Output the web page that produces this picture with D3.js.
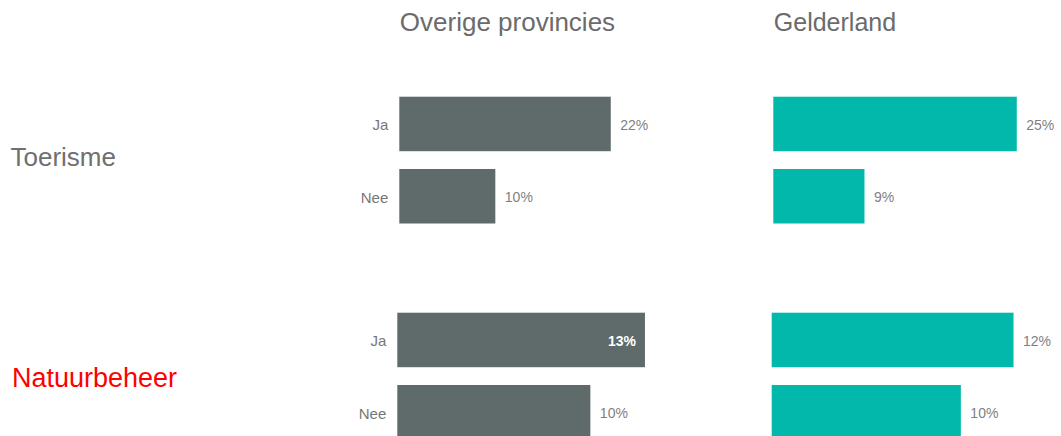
<!DOCTYPE html>
<html><head><meta charset="utf-8">
<script src="https://cdn.jsdelivr.net/npm/d3@7"></script>
<style>body{margin:0;background:#fff}svg{display:block}text{font-family:"Liberation Sans",Arial,sans-serif}</style>
</head><body>
<svg id="c" width="1061" height="436"></svg>
<script>
const panels = ["Overige provincies", "Gelderland"];
const groups = ["Toerisme", "Natuurbeheer"];
const answers = ["Ja", "Nee"];
const overigeToerisme = [21.8, 9.9];
const gelderlandToerisme = [25.1, 9.4];
const overigeNatuurbeheer = [12.7, 9.9];
const gelderlandNatuurbeheer = [12.4, 9.7];

const values = {
  "Toerisme": [overigeToerisme, gelderlandToerisme],
  "Natuurbeheer": [overigeNatuurbeheer, gelderlandNatuurbeheer]
};
const colors = ["#5f6a6a", "#01b8aa"];
const layout = {
  "Toerisme": {top: 96.7, maxV: 30, width: 291, x0: [399.3, 773.3], labelX: 10.5, labelY: 166, color: "#6f6f6f", size: 26},
  "Natuurbeheer": {top: 312.7, maxV: 15, width: 292.5, x0: [397.3, 771.7], labelX: 12, labelY: 386.5, color: "#ff0000", size: 27}
};
const step = 72.3, bw = 54.5;
const svg = d3.select("#c");

// panel titles
svg.selectAll("text.title").data(panels).join("text")
  .attr("class", "title")
  .attr("x", (d, i) => layout.Toerisme.x0[i] + 0.5)
  .attr("y", 30.5)
  .attr("fill", "#6b6b6b")
  .attr("font-size", (d, i) => i === 0 ? 26 : 25)
  .text(d => d);

groups.forEach(g => {
  const L = layout[g];
  const x = d3.scaleLinear().domain([0, L.maxV]).range([0, L.width]);
  const y = d3.scaleBand().domain(answers).range([L.top, L.top + step + bw]).paddingInner(1 - bw / step).paddingOuter(0);

  svg.append("text").attr("x", L.labelX).attr("y", L.labelY)
    .attr("fill", L.color).attr("font-size", L.size).text(g);

  panels.forEach((p, pi) => {
    const gg = svg.append("g").attr("transform", `translate(${L.x0[pi]},0)`);
    const vals = values[g][pi];
    const data = answers.map((a, i) => ({a, v: vals[i]}));
    if (pi === 0) {
      const ax = d3.axisLeft(y).tickSize(0).tickPadding(11);
      const axg = gg.append("g").call(ax);
      axg.select(".domain").remove();
      axg.selectAll("text").attr("fill", "#777").attr("font-size", 15)
        .attr("font-family", '"Liberation Sans",Arial,sans-serif').attr("dy", "0.42em");
    }
    gg.selectAll("rect").data(data).join("rect")
      .attr("x", 0).attr("y", d => y(d.a))
      .attr("width", d => x(d.v)).attr("height", y.bandwidth())
      .attr("fill", colors[pi]);
    const inside = d => g === "Natuurbeheer" && pi === 0 && d.a === "Ja";
    gg.selectAll("text.val").data(data).join("text")
      .attr("class", "val")
      .attr("x", d => inside(d) ? x(d.v) - 9 : x(d.v) + 9.5)
      .attr("y", d => y(d.a) + y.bandwidth() / 2)
      .attr("dy", "0.4em")
      .attr("text-anchor", d => inside(d) ? "end" : "start")
      .attr("fill", d => inside(d) ? "#ffffff" : "#7f7f7f")
      .attr("font-weight", d => inside(d) ? "bold" : "normal")
      .attr("font-size", 14)
      .text(d => Math.round(d.v) + "%");
  });
});
</script>
</body></html>
